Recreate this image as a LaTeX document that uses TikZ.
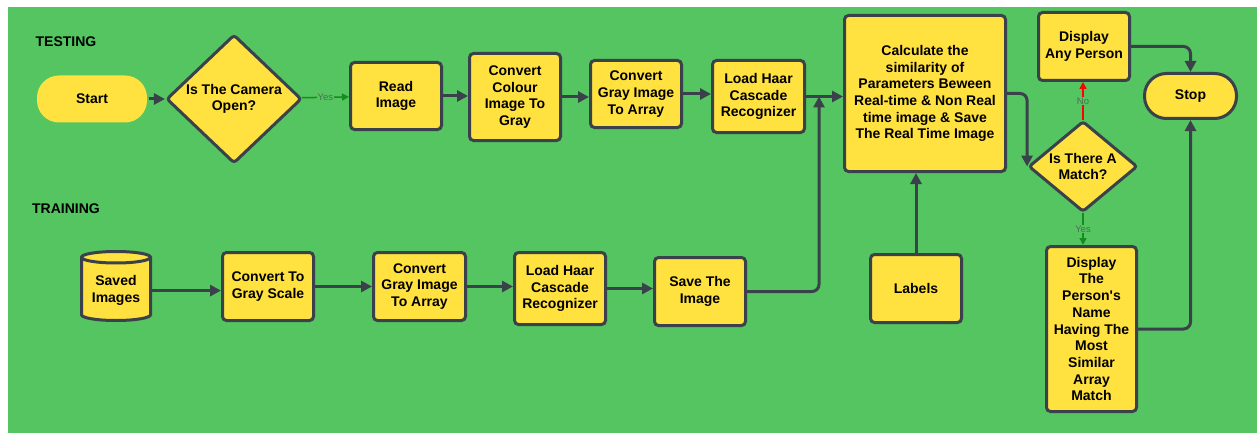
\documentclass[tikz,border=0pt]{standalone}
\usepackage{fontspec}
\setmainfont{Liberation Sans}
\usetikzlibrary{arrows.meta, shapes.geometric}
\definecolor{bg}{RGB}{84,197,96}
\definecolor{yel}{RGB}{255,225,64}
\definecolor{ink}{RGB}{58,65,74}
\definecolor{yesgreen}{RGB}{20,140,30}
\definecolor{lbl}{RGB}{75,110,85}

\begin{document}
\begin{tikzpicture}[x=1pt,y=-1pt,
  box/.style={draw=ink,line width=3pt,fill=yel,rounded corners=4pt,align=center,inner sep=2pt,font=\bfseries\fontsize{14}{16.7}\selectfont},
  dec/.style={box,diamond,inner sep=2pt,rounded corners=3pt},
  pill/.style={box,rounded corners=22pt},
  flow/.style={ink,line width=3pt,-{Triangle[length=11pt,width=11pt]},rounded corners=7pt},
  yes/.style={yesgreen,line width=1.5pt,-{Triangle[length=7pt,width=7pt]}},
  no/.style={red,line width=1.5pt,-{Triangle[length=7pt,width=7pt]}},
  tag/.style={fill=bg,text=lbl,inner sep=1pt,font=\fontsize{9.5}{10}\selectfont},
  head/.style={font=\bfseries\fontsize{14}{16}\selectfont}]
  \fill[white](0,0) rectangle (1257,433);
  \fill[bg](8,7) rectangle (1257,433);
  \useasboundingbox (0,0) rectangle (1257,433);
  \node[head] (testing) at (66,42) {TESTING};
  \node[head] (training) at (66,209) {TRAINING};
  % testing row
  \node[pill,draw=none,minimum width=110pt,minimum height=47pt] (start) at (92,99) {Start};
  \node[dec,aspect=1.05] (cam) at (234,99) {Is The Camera\\Open?};
  \node[box,minimum width=91pt,minimum height=67pt] (read) at (396,96) {Read\\Image};
  \node[box,minimum width=91pt,minimum height=87pt] (colour) at (515,97) {Convert\\Colour\\Image To\\Gray};
  \node[box,minimum width=91pt,minimum height=67pt] (gray1) at (636,94) {Convert\\Gray Image\\To Array};
  \node[box,minimum width=92pt,minimum height=72pt] (haar1) at (758.5,96.5) {Load Haar\\Cascade\\Recognizer};
  \node[box,minimum width=161pt,minimum height=156pt] (calc) at (925,93.5) {Calculate the\\similarity of\\Parameters Beween\\Real-time \& Non Real\\time image \& Save\\The Real Time Image};
  \node[box,minimum width=91pt,minimum height=68pt] (anyp) at (1084,46.5) {Display\\Any Person};
  \node[pill,minimum width=92pt,minimum height=45pt] (stop) at (1190.5,96) {Stop};
  \node[dec,aspect=1.2] (match) at (1083,166.5) {Is There A\\Match?};
  \node[box,minimum width=90pt,minimum height=165pt] (name) at (1091.5,329) {Display\\The\\Person\textquotesingle s\\Name\\Having The\\Most\\Similar\\Array\\Match};
  \node[box,minimum width=91pt,minimum height=68pt] (labels) at (916,288.5) {Labels};
  % training row
  \node[box,cylinder,shape border rotate=90,aspect=0.22,minimum width=69pt,minimum height=69pt,rounded corners=0pt,anchor=shape center] (saved) at (116,286) {Saved\\Images};
  \node[box,minimum width=91pt,minimum height=68pt] (scale) at (268,286.5) {Convert To\\Gray Scale};
  \node[box,minimum width=92pt,minimum height=68pt] (gray2) at (419.5,286.5) {Convert\\Gray Image\\To Array};
  \node[box,minimum width=91pt,minimum height=72pt] (haar2) at (560,288.5) {Load Haar\\Cascade\\Recognizer};
  \node[box,minimum width=91pt,minimum height=68pt] (save) at (700,291.5) {Save The\\Image};
  \coordinate (join) at (819,96.5);
  % connectors
  \draw[flow] (start) -- (cam);
  \draw[yes] (cam) -- node[tag]{Yes} (read);
  \draw[flow] (read.east) -- (read.east -| colour.west);
  \draw[flow] (colour.east) -- (colour.east -| gray1.west);
  \draw[flow] (gray1.east) -- (gray1.east -| haar1.west);
  \draw[flow] (haar1.east) -- (haar1.east -| calc.west);
  \draw[flow] (calc.east) -| (match.west);
  \draw[no] (match.north) -- node[tag]{No} (match.north |- anyp.south);
  \draw[yes] (match.south) -- node[tag]{Yes} (match.south |- name.north);
  \draw[flow] (anyp.east) -| (stop.north);
  \draw[flow] (name.east) -| (stop.south);
  \draw[flow] (labels.north) -- (labels.north |- calc.south);
  \draw[flow] (saved.east) -- (saved.east -| scale.west);
  \draw[flow] (scale.east) -- (scale.east -| gray2.west);
  \draw[flow] (gray2.east) -- (gray2.east -| haar2.west);
  \draw[flow] (haar2.east) -- (haar2.east -| save.west);
  \draw[flow] (save.east) -| (join);
\end{tikzpicture}
\end{document}
